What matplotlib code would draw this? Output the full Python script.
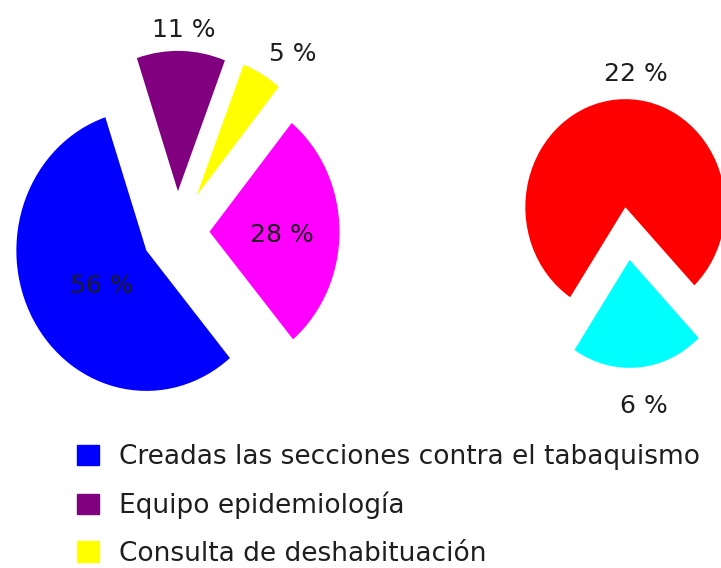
import numpy as np
import matplotlib
matplotlib.use("Agg")
import matplotlib.pyplot as plt
import matplotlib.patches as mpatches

# data
left_values = [56, 11, 5, 28]
left_colors = ["#0000ff", "#800080", "#ffff00", "#ff00ff"]
right_values = [22, 6]
right_colors = ["#ff0000", "#00ffff"]
legend_labels = ["Creadas las secciones contra el tabaquismo",
                 "Equipo epidemiología",
                 "Consulta de deshabituación"]

# style / layout (pixel-ish units, y stretched slightly like the original)
W, H = 721, 568
SY = 1.08
TEXT_COLOR = "#1e1e1e"
PCT_SIZE = 18
LEG_SIZE = 19

L_CENTER = (177, (H - 232) / SY)
L_RADIUS = 130
L_EXPLODE = [0.27, 0.29, 0.30, 0.25]
L_LABEL = [(0.43, 7), (1.15, -1), (1.25, -6), (0.56, -3)]  # (distance, angle tweak)

R_CENTER = (627.5, (H - 233.5) / SY)
R_RADIUS = 100
R_EXPLODE = [0.245, 0.245]
R_LABEL = [(1.24, -10), (1.36, 1)]

fig = plt.figure(figsize=(W / 100, H / 100), dpi=100)
ax = fig.add_axes([0, 0, 1, 1])


def draw_pie(values, colors, center, radius, explode, startangle, label_pos):
    wedges, _ = ax.pie(values, colors=colors, center=center, radius=radius,
                       explode=[e * radius for e in explode],
                       startangle=startangle, counterclock=False,
                       wedgeprops=dict(linewidth=0))
    for w, v, (d, tweak) in zip(wedges, values, label_pos):
        mid = np.deg2rad((w.theta1 + w.theta2) / 2 + tweak)
        cx, cy = w.center
        ax.text(cx + d * radius * np.cos(mid), cy + d * radius * np.sin(mid),
                f"{v} %", ha="center", va="center",
                fontsize=PCT_SIZE, color=TEXT_COLOR)
    return wedges


draw_pie(left_values, left_colors, L_CENTER, L_RADIUS,
         L_EXPLODE, -50, L_LABEL)
draw_pie(right_values, right_colors, R_CENTER, R_RADIUS,
         R_EXPLODE, 236.5, R_LABEL)

ax.set_aspect("auto")
ax.set_xlim(0, W)
ax.set_ylim(0, H / SY)
ax.axis("off")

handles = [mpatches.Patch(color=c, label=l)
           for c, l in zip(left_colors[:3], legend_labels)]
fig.legend(handles=handles, loc="upper left",
           bbox_to_anchor=(77 / W, 1 - 444 / H),
           frameon=False, fontsize=LEG_SIZE, handlelength=0.82, handleheight=0.82,
           handletextpad=0.78, labelspacing=0.82, borderpad=0, borderaxespad=0,
           labelcolor=TEXT_COLOR)

fig.savefig("out.png", dpi=100)
